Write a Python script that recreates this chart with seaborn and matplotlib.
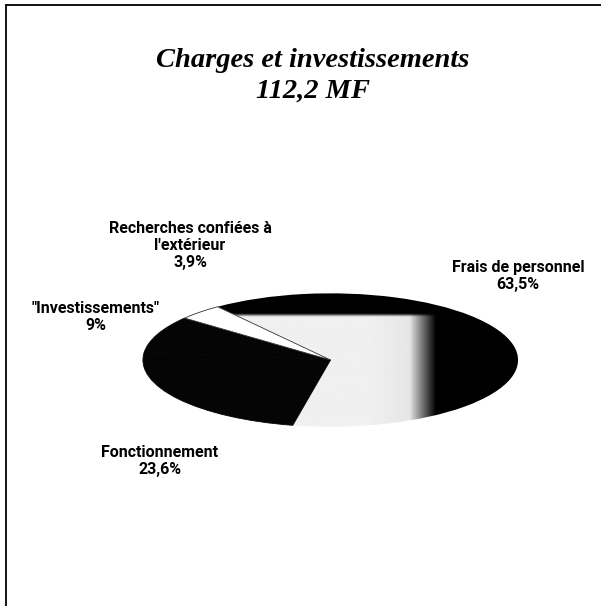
import matplotlib
matplotlib.use("Agg")
import matplotlib.pyplot as plt
import seaborn as sns
import numpy as np
from matplotlib.lines import Line2D

sns.set_theme(style="white")
plt.rcParams["text.color"] = "black"

categories = ["Frais de personnel", "Fonctionnement", "\"Investissements\"", "Recherches confiées à\nl'extérieur"]
values = [63.5, 23.6, 9.0, 3.9]
value_labels = ["63,5%", "23,6%", "9%", "3,9%"]
title_lines = ["Charges et investissements", "112,2 MF"]
colors = ["none", "#050505", "#050505", "#ffffff"]

fig = plt.figure(figsize=(6.01, 6.06), dpi=100)
fig.patch.set_facecolor("white")

ax = fig.add_axes([142/601, 1-427/606, 377/601, 134/606])
wedges, _ = ax.pie(values, colors=colors, startangle=127, counterclock=False,
                   wedgeprops=dict(edgecolor="#050505", linewidth=0.6))
wedges[0].set_edgecolor("none")
wedges[3].set_edgecolor("#333333")
wedges[3].set_linewidth(0.6)

# shaded (scanned) fill of the main slice: light area fading to black at the right and top
gx = np.linspace(-1, 1, 400)
gy = np.linspace(-1, 1, 200)
X, Y = np.meshgrid(gx, gy)
fx = np.clip((0.56 - X) / 0.14, 0, 1)
fy = np.clip((0.70 - Y) / 0.05, 0, 1)
shade = 0.94 * fx * fy - 0.05 * np.clip((X - 0.2) / 0.3, 0, 1) * fx
shade = np.clip(shade, 0, 1)
im = ax.imshow(shade, cmap="gray", vmin=0, vmax=1, extent=[-1, 1, -1, 1],
               origin="lower", aspect="auto", interpolation="bilinear", zorder=0.5)
im.set_clip_path(wedges[0])

ax.set_aspect("auto")
ax.set_xlim(-1.005, 1.005)
ax.set_ylim(-1.005, 1.005)
ax.axis("off")

# frame lines (left and top border of the scanned page)
fig.add_artist(Line2D([6/601, 6/601], [0, 1-5/606], transform=fig.transFigure, color="black", lw=1.3))
fig.add_artist(Line2D([6/601, 1], [1-5/606, 1-5/606], transform=fig.transFigure, color="black", lw=1.3))

# title
title_font = dict(family="Liberation Serif", style="italic", weight="bold", fontsize=20.5,
                  ha="center", va="baseline")
fig.text(313/601, 1-67/606, title_lines[0], **title_font)
fig.text(313/601, 1-98/606, title_lines[1], **title_font)

lab_font = dict(family=["Roboto", "DejaVu Sans"], weight="bold", fontsize=11.5,
                ha="center", va="baseline")
# (center x, baseline of last line) in pixels
positions = [(518, 289), (160, 474), (96, 330), (190, 267)]
step = 17
for name, val, (x, y) in zip(categories, value_labels, positions):
    lines = name.split("\n") + [val]
    n = len(lines)
    for i, line in enumerate(lines):
        yy = y - (n - 1 - i) * step
        fig.text(x/601, 1-yy/606, line, **lab_font)

fig.savefig("out.png", dpi=100, facecolor="white")
